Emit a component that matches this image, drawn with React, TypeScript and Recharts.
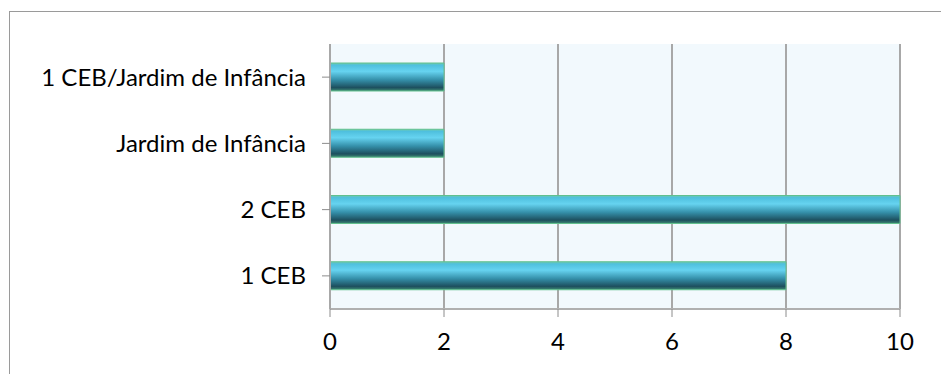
import { BarChart, Bar, XAxis, YAxis, CartesianGrid } from "recharts";

const levels = [
  "1 CEB/Jardim de Infância",
  "Jardim de Infância",
  "2 CEB",
  "1 CEB",
];
const counts = [2, 2, 10, 8];
const xTicks = [0, 2, 4, 6, 8, 10];

const data = levels.map((name, i) => ({ name, value: counts[i] }));

const font = "Lato, 'Open Sans', sans-serif";

export default function App() {
  return (
    <div
      style={{
        position: "absolute",
        left: 0,
        top: 0,
        width: 941,
        height: 374,
        background: "#fff",
        fontFamily: font,
      }}
    >
      {/* outer chart border, only top and left visible */}
      <div
        style={{
          position: "absolute",
          left: 9,
          top: 11,
          width: 940,
          height: 370,
          borderLeft: "1.5px solid #9a9a9a",
          borderTop: "1.5px solid #9a9a9a",
        }}
      />
      <div style={{ position: "absolute", left: 0, top: 0 }}>
        <BarChart
          width={941}
          height={374}
          data={data}
          layout="vertical"
          margin={{ top: 44, right: 41, left: 0, bottom: 35 }}
          barSize={28}
        >
          <defs>
            <linearGradient id="barGrad" x1="0" y1="0" x2="0" y2="1">
              <stop offset="0%" stopColor="#6cc9b0" />
              <stop offset="8%" stopColor="#4fc0de" />
              <stop offset="30%" stopColor="#66d3f0" />
              <stop offset="60%" stopColor="#3590aa" />
              <stop offset="88%" stopColor="#1d4f5e" />
              <stop offset="100%" stopColor="#3f8a74" />
            </linearGradient>
          </defs>
          <CartesianGrid
            horizontal={false}
            fill="#f2f9fd"
            stroke="#a8a8a8"
            strokeWidth={2}
          />
          <XAxis
            type="number"
            domain={[0, 10]}
            ticks={xTicks}
            interval={0}
            height={30}
            axisLine={{ stroke: "#b0b0b0", strokeWidth: 2 }}
            tickLine={{ stroke: "#8c8c8c" }}
            tickSize={8}
            tickMargin={16}
            tick={{ fill: "#000", fontSize: 24, fontFamily: font }}
          />
          <YAxis
            type="category"
            dataKey="name"
            width={330}
            axisLine={{ stroke: "#a8a8a8", strokeWidth: 2 }}
            tickLine={{ stroke: "#8c8c8c" }}
            tickSize={8}
            tickMargin={16}
            tick={{ fill: "#000", fontSize: 24, fontFamily: font }}
          />
          <Bar
            dataKey="value"
            fill="url(#barGrad)"
            stroke="#62c08e"
            strokeWidth={1}
            isAnimationActive={false}
          />
        </BarChart>
      </div>
    </div>
  );
}
